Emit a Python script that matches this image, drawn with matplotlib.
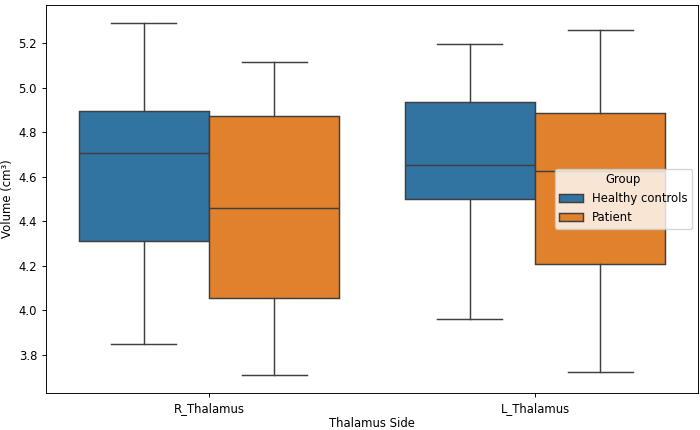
import matplotlib
matplotlib.use("Agg")
import matplotlib.pyplot as plt
from matplotlib.patches import Patch

categories = ["R_Thalamus", "L_Thalamus"]
groups = ["Healthy controls", "Patient"]

# five-number summaries per group, per category (whislo, q1, median, q3, whishi)
healthy_whislo = [3.849, 3.960]
healthy_q1 = [4.311, 4.502]
healthy_med = [4.706, 4.652]
healthy_q3 = [4.897, 4.935]
healthy_whishi = [5.293, 5.198]

patient_whislo = [3.709, 3.723]
patient_q1 = [4.055, 4.209]
patient_med = [4.461, 4.627]
patient_q3 = [4.873, 4.885]
patient_whishi = [5.117, 5.261]

colors = ["#3274a1", "#e1812c"]
edge = "#3f3f3f"
lw = 1.05

plt.rcParams["font.size"] = 8.4
plt.rcParams["axes.linewidth"] = 0.67
plt.rcParams["xtick.major.width"] = 0.67
plt.rcParams["ytick.major.width"] = 0.67
plt.rcParams["xtick.major.size"] = 3.0
plt.rcParams["ytick.major.size"] = 3.0

fig = plt.figure(figsize=(7, 4.3), dpi=100)
ax = fig.add_axes([46 / 700, 1 - 392.7 / 430, 652 / 700, 388 / 430])

series = [
    (healthy_whislo, healthy_q1, healthy_med, healthy_q3, healthy_whishi),
    (patient_whislo, patient_q1, patient_med, patient_q3, patient_whishi),
]
width = 0.4
offsets = [-0.2, 0.2]
for gi, (lo, q1, med, q3, hi) in enumerate(series):
    stats = []
    for ci in range(len(categories)):
        stats.append(dict(whislo=lo[ci], q1=q1[ci], med=med[ci], q3=q3[ci],
                          whishi=hi[ci], fliers=[]))
    pos = [ci + offsets[gi] for ci in range(len(categories))]
    ax.bxp(stats, positions=pos, widths=width, patch_artist=True,
           showfliers=False, manage_ticks=False,
           boxprops=dict(facecolor=colors[gi], edgecolor=edge, linewidth=lw),
           medianprops=dict(color=edge, linewidth=lw),
           whiskerprops=dict(color=edge, linewidth=lw),
           capprops=dict(color=edge, linewidth=lw),
           capwidths=width / 2)

ax.set_xlim(-0.5, 1.5)
ax.set_ylim(3.630, 5.373)
ax.set_xticks(range(len(categories)))
ax.set_xticklabels(categories)
ax.set_yticks([3.8, 4.0, 4.2, 4.4, 4.6, 4.8, 5.0, 5.2])
ax.set_xlabel("Thalamus Side", labelpad=1.5)
ax.set_ylabel("Volume (cm³)", labelpad=3)

handles = [Patch(facecolor=colors[i], edgecolor=edge, linewidth=lw, label=groups[i])
           for i in range(len(groups))]
ax.legend(handles=handles, title="Group", loc="center right")

fig.savefig("out.png", dpi=100)
